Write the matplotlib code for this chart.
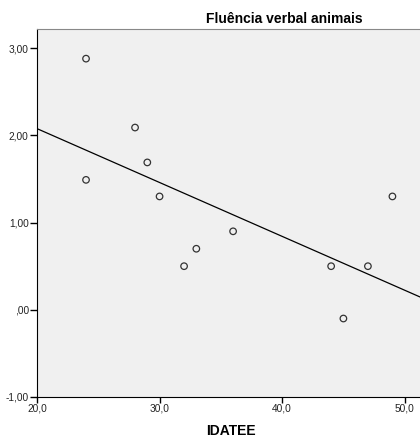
import numpy as np
import matplotlib
matplotlib.use("Agg")
import matplotlib.pyplot as plt
from matplotlib.ticker import FuncFormatter

plt.rcParams['font.family'] = ['Liberation Sans', 'DejaVu Sans']

# data
idade = [24, 24, 28, 29, 30, 32, 33, 36, 44, 45, 47, 49]
fluencia = [2.88, 1.49, 2.09, 1.69, 1.30, 0.50, 0.70, 0.90, 0.50, -0.10, 0.50, 1.30]
xticks = [20, 30, 40, 50]
yticks = [-1, 0, 1, 2, 3]

fig = plt.figure(figsize=(4.2, 4.37), dpi=100)
ax = fig.add_axes([37 / 420, 1 - 397 / 437, 383 / 420, 368 / 437])
ax.set_facecolor('#f0f0f0')

ax.scatter(idade, fluencia, s=22, facecolors='none', edgecolors='#333333', linewidths=0.9, zorder=3)

xmin, xmax = 20, 51.25
coef = np.polyfit(idade, fluencia, 1)
xl = np.array([xmin, xmax])
ax.plot(xl, np.polyval(coef, xl), color='black', lw=0.9, zorder=2)

ax.set_xlim(xmin, xmax)
ax.set_ylim(-1, 3.22)
ax.set_xticks(xticks)
ax.set_yticks(yticks)


def fmt_y(v, pos):
    s = '%.2f' % v
    if s.startswith('0'):
        s = s[1:]
    return s.replace('.', ',')


ax.xaxis.set_major_formatter(FuncFormatter(lambda v, p: ('%.1f' % v).replace('.', ',')))
ax.yaxis.set_major_formatter(FuncFormatter(fmt_y))
ax.tick_params(axis='x', direction='out', length=4, width=1, labelsize=7.3, pad=1, labelcolor='#222222')
ax.tick_params(axis='y', direction='out', length=5, width=1, labelsize=7.3, pad=1, labelcolor='#222222')

ax.spines['right'].set_visible(False)
ax.spines['top'].set_color('#888888')
ax.spines['left'].set_color('black')
ax.spines['bottom'].set_color('black')

fig.text(284 / 420, 1 - 19 / 437, 'Fluência verbal animais', ha='center', va='center',
         fontsize=10, fontweight='bold')
fig.text(231 / 420, 1 - 431 / 437, 'IDATEE', ha='center', va='center',
         fontsize=10, fontweight='bold')

fig.savefig('out.png', dpi=100)
